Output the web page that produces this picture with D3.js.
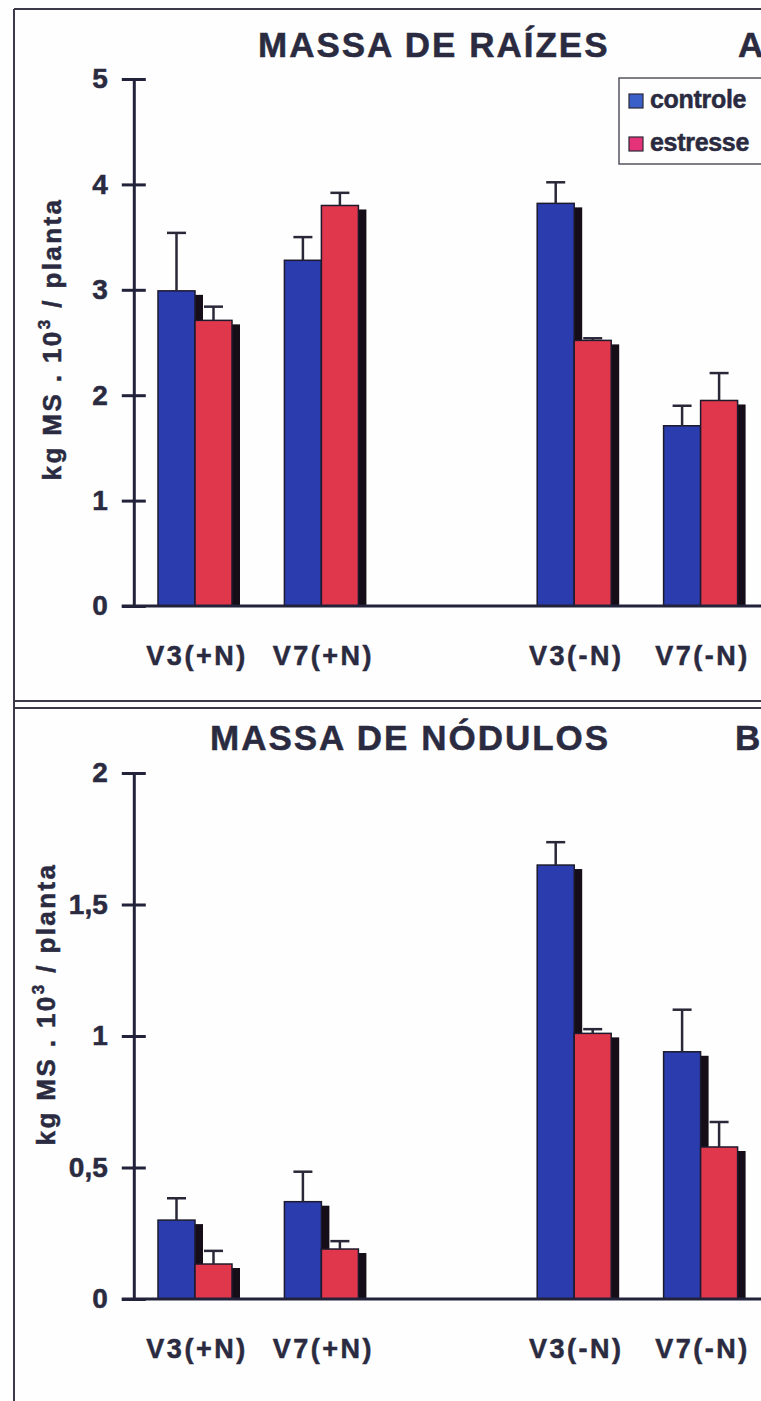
<!DOCTYPE html>
<html>
<head>
<meta charset="utf-8">
<script src="https://cdn.jsdelivr.net/npm/d3@7"></script>
<style>
  html, body { margin: 0; padding: 0; background: #fefefe; }
  svg { display: block; }
  text { font-family: "Liberation Sans", Arial, sans-serif; font-weight: bold; fill: #2a2a40;
         stroke: #2a2a40; stroke-width: 0.5px; }
</style>
</head>
<body>
<svg id="chart" width="761" height="1401"></svg>
<script>
// Cultivar / nitrogen treatments along the x axis
const categories = ["V3(+N)", "V7(+N)", "V3(-N)", "V7(-N)"];
// Slot order on the axis (an empty slot separates +N from -N)
const slots = ["V3(+N)", "V7(+N)", "", "V3(-N)", "V7(-N)"];
const series = ["controle", "estresse"];

// A: root mass (kg MS . 10^3 / planta), means and standard errors
const raizesControle = [2.99, 3.28, 3.82, 1.71];
const raizesControleSE = [0.55, 0.22, 0.20, 0.19];
const raizesEstresse = [2.71, 3.80, 2.52, 1.95];
const raizesEstresseSE = [0.13, 0.12, 0.02, 0.26];

// B: nodule mass
const nodulosControle = [0.30, 0.37, 1.65, 0.94];
const nodulosControleSE = [0.083, 0.114, 0.087, 0.16];
const nodulosEstresse = [0.133, 0.19, 1.01, 0.578];
const nodulosEstresseSE = [0.05, 0.03, 0.016, 0.095];

const raizesTicks = [0, 1, 2, 3, 4, 5];
const raizesTickLabels = ["0", "1", "2", "3", "4", "5"];
const nodulosTicks = [0, 0.5, 1, 1.5, 2];
const nodulosTickLabels = ["0", "0,5", "1", "1,5", "2"];

const colors = { controle: "#2a3cae", estresse: "#e0374d" };
const legendColors = { controle: "#3b5fc8", estresse: "#e5337a" };
const ink = "#22223a";

const svg = d3.select("#chart");

// frame: top rule, left rule, double divider between panels
svg.append("line").attr("x1", 14).attr("x2", 761).attr("y1", 9).attr("y2", 9)
  .attr("stroke", "#3a3a4a").attr("stroke-width", 2);
svg.append("line").attr("x1", 14).attr("x2", 14).attr("y1", 9).attr("y2", 1401)
  .attr("stroke", "#3a3a4a").attr("stroke-width", 2);
[701, 708].forEach(yy => {
  svg.append("line").attr("x1", 14).attr("x2", 761).attr("y1", yy).attr("y2", yy)
    .attr("stroke", "#3a3a4a").attr("stroke-width", 1.8);
});

const x = d3.scaleBand().domain(slots).range([131.8, 763.8]);
const inner = d3.scaleBand().domain(series).range([-37, 37]);

function drawPanel(cfg) {
  const g = svg.append("g");
  const y = d3.scaleLinear().domain([0, cfg.max]).range(cfg.yRange);

  // title and panel letter
  g.append("text").attr("x", cfg.titleX).attr("y", cfg.titleY)
    .attr("font-size", 35).attr("letter-spacing", 2).text(cfg.title);
  g.append("text").attr("x", cfg.letterX).attr("y", cfg.titleY)
    .attr("font-size", 35).text(cfg.letter);

  // value axis with ticks crossing the line
  const axis = d3.axisLeft(y).tickValues(cfg.ticks)
    .tickFormat((d, i) => cfg.tickLabels[i]).tickSize(12).tickSizeOuter(0).tickPadding(14);
  const ag = g.append("g").attr("transform", `translate(${x.range()[0] + 2},0)`).call(axis);
  ag.select(".domain").attr("stroke", ink).attr("stroke-width", 3);
  ag.selectAll(".tick line").attr("stroke", ink).attr("stroke-width", 3).attr("x2", -12).attr("x1", 12);
  ag.selectAll(".tick text").attr("font-size", 28).attr("font-family", "Liberation Sans, Arial, sans-serif")
    .attr("font-weight", "bold").attr("fill", "#2a2a40").attr("stroke", "#2a2a40").attr("stroke-width", 0.5);

  // y label
  const yl = g.append("text")
    .attr("transform", `translate(${cfg.ylabelX},${cfg.ylabelY}) rotate(-90)`)
    .attr("text-anchor", "middle").attr("font-size", 26).attr("letter-spacing", 2.4);
  yl.append("tspan").text("kg MS . 10");
  yl.append("tspan").attr("dy", -11).attr("font-size", 17).text("3");
  yl.append("tspan").attr("dy", 11).text(" / planta");

  const rows = categories.map((c, i) => ({
    cat: c,
    vals: [
      { s: "controle", v: cfg.controle[i], se: cfg.controleSE[i] },
      { s: "estresse", v: cfg.estresse[i], se: cfg.estresseSE[i] }
    ]
  }));
  const bw = inner.bandwidth();
  const cx = c => x(c) + x.bandwidth() / 2;

  // drop shadows first
  rows.forEach(r => r.vals.forEach(d => {
    g.append("rect").attr("x", cx(r.cat) + inner(d.s) + 8).attr("y", y(d.v) + 4)
      .attr("width", bw).attr("height", y(0) - y(d.v) - 4).attr("fill", "#150d18");
  }));
  // bars
  rows.forEach(r => r.vals.forEach(d => {
    g.append("rect").attr("x", cx(r.cat) + inner(d.s)).attr("y", y(d.v))
      .attr("width", bw).attr("height", y(0) - y(d.v))
      .attr("fill", colors[d.s]).attr("stroke", "#1c1a2c").attr("stroke-width", 1.5);
  }));
  // upper error bars
  rows.forEach(r => r.vals.forEach(d => {
    const mx = cx(r.cat) + inner(d.s) + bw / 2;
    g.append("line").attr("x1", mx).attr("x2", mx).attr("y1", y(d.v)).attr("y2", y(d.v + d.se))
      .attr("stroke", "#2a2838").attr("stroke-width", 2.5);
    g.append("line").attr("x1", mx - 9.5).attr("x2", mx + 9.5).attr("y1", y(d.v + d.se)).attr("y2", y(d.v + d.se))
      .attr("stroke", "#2a2838").attr("stroke-width", 2.5);
  }));

  // baseline
  g.append("line").attr("x1", x.range()[0] - 10).attr("x2", 761).attr("y1", y(0)).attr("y2", y(0))
    .attr("stroke", ink).attr("stroke-width", 3);

  // category labels
  categories.forEach(c => {
    g.append("text").attr("x", cx(c) + 2).attr("y", y(0) + 59)
      .attr("text-anchor", "middle").attr("font-size", 27).attr("letter-spacing", 2.5).text(c);
  });
}

drawPanel({
  title: "MASSA DE RAÍZES", letter: "A", titleX: 258, letterX: 738, titleY: 57,
  max: 5, yRange: [606, 79], ticks: raizesTicks, tickLabels: raizesTickLabels,
  controle: raizesControle, controleSE: raizesControleSE,
  estresse: raizesEstresse, estresseSE: raizesEstresseSE,
  ylabelX: 61, ylabelY: 339
});

drawPanel({
  title: "MASSA DE NÓDULOS", letter: "B", titleX: 210, letterX: 735, titleY: 750,
  max: 2, yRange: [1299, 773], ticks: nodulosTicks, tickLabels: nodulosTickLabels,
  controle: nodulosControle, controleSE: nodulosControleSE,
  estresse: nodulosEstresse, estresseSE: nodulosEstresseSE,
  ylabelX: 55, ylabelY: 1004
});

// legend (panel A)
const lg = svg.append("g");
lg.append("rect").attr("x", 619).attr("y", 78).attr("width", 160).attr("height", 86)
  .attr("fill", "#fefefe").attr("stroke", "#55535e").attr("stroke-width", 1.5);
series.forEach((s, i) => {
  lg.append("rect").attr("x", 629).attr("y", 94 + i * 43).attr("width", 14).attr("height", 14)
    .attr("fill", legendColors[s]).attr("stroke", "#2a2838").attr("stroke-width", 1.2);
  lg.append("text").attr("x", 650).attr("y", 108 + i * 43).attr("font-size", 25)
    .attr("letter-spacing", -0.3).text(s);
});
</script>
</body>
</html>
